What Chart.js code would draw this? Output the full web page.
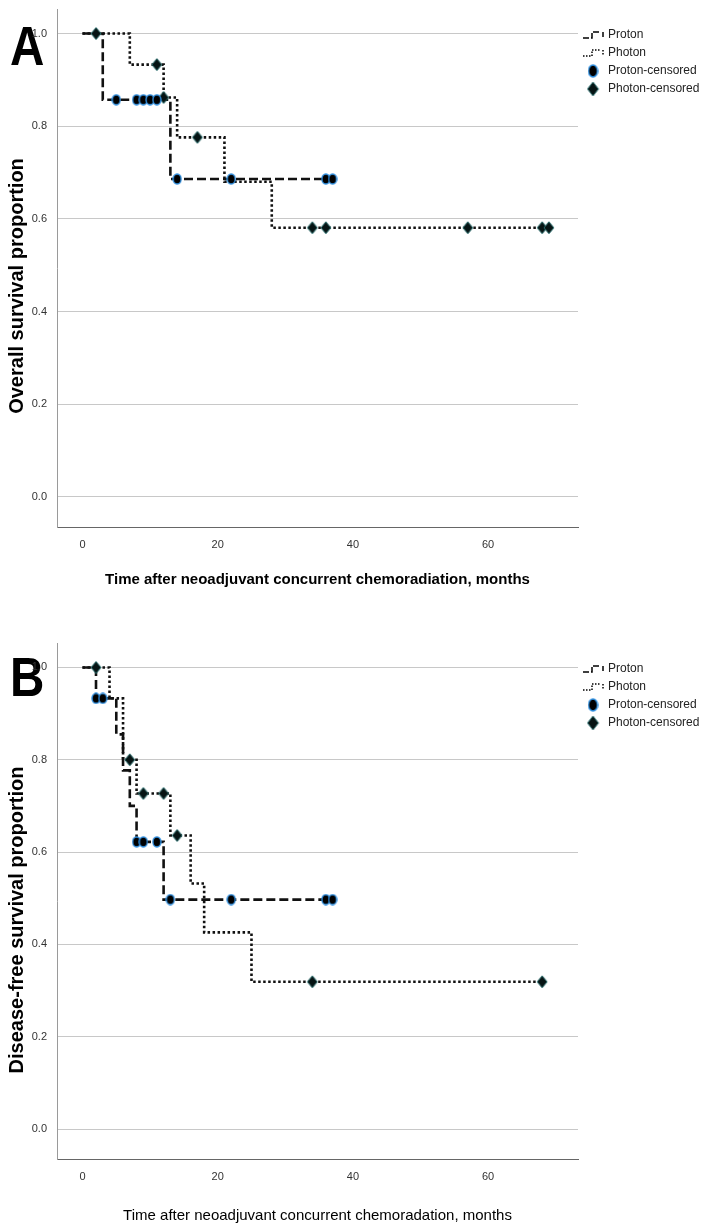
<!DOCTYPE html>
<html>
<head>
<meta charset="utf-8">
<script src="https://cdn.jsdelivr.net/npm/chart.js@4.4.1/dist/chart.umd.min.js"></script>
<style>
  body { margin: 0; background: #fff; width: 707px; height: 1227px; position: relative; overflow: hidden; }
  .panel { position: absolute; left: 0; width: 707px; height: 595px; z-index: 1; }
  .tag { position: absolute; left: 10px; z-index: 0; font: bold 56px 'Liberation Sans', Arial, sans-serif; color: #000; line-height: 1; transform: scaleX(0.85); transform-origin: left top; }
</style>
</head>
<body>
<div class="tag" style="top:18px">A</div>
<div class="tag" style="top:649px">B</div>
<div class="panel" style="top:0"><canvas id="chartA" width="707" height="595"></canvas></div>
<div class="panel" style="top:634px"><canvas id="chartB" width="707" height="593"></canvas></div>
<script>
var xTicks = [0, 20, 40, 60];
var yTicks = [0, 0.2, 0.4, 0.6, 0.8, 1.0];
var seriesNames = ['Proton', 'Photon', 'Proton-censored', 'Photon-censored'];

// A: overall survival (months, proportion after each event)
var osProtonEventT = [3, 13];
var osProtonSurv = [0.857, 0.686];
var osProtonCensT = [5, 8, 9, 10, 11, 14, 22, 36, 37];
var osPhotonEventT = [7, 12, 14, 21, 28];
var osPhotonSurv = [0.933, 0.862, 0.776, 0.680, 0.581];
var osPhotonCensT = [2, 11, 12, 17, 34, 36, 57, 68, 69];

// B: disease-free survival
var dfsProtonEventT = [2, 5, 6, 7, 8, 12];
var dfsProtonSurv = [0.933, 0.855, 0.777, 0.700, 0.622, 0.497];
var dfsProtonCensT = [2, 3, 8, 9, 11, 13, 22, 36, 37];
var dfsPhotonEventT = [4, 6, 8, 13, 16, 18, 25];
var dfsPhotonSurv = [0.933, 0.800, 0.727, 0.636, 0.532, 0.426, 0.319];
var dfsPhotonCensT = [2, 7, 9, 12, 14, 34, 68];

var narrow = "'Liberation Sans Narrow', 'Arial Narrow', 'Liberation Sans', sans-serif";
Chart.defaults.font.family = narrow;

function survAt(evT, surv, t) {
    var s = 1;
    for (var i = 0; i < evT.length; i++) {
        if (evT[i] <= t) s = surv[i];
    }
    return s;
}

// corner points of the Kaplan-Meier step line
function kmPath(evT, surv, censT) {
    var pts = [{ x: 0, y: 1 }];
    var prev = 1;
    for (var i = 0; i < evT.length; i++) {
        pts.push({ x: evT[i], y: prev });
        pts.push({ x: evT[i], y: surv[i] });
        prev = surv[i];
    }
    var end = Math.max(censT[censT.length - 1], evT[evT.length - 1]);
    pts.push({ x: end, y: prev });
    return pts;
}

function censPts(evT, surv, censT) {
    return censT.map(function (t) { return { x: t, y: survAt(evT, surv, t) }; });
}

function dotImg(w, h) {
    var c = document.createElement('canvas');
    c.width = w + 2; c.height = h + 2;
    var g = c.getContext('2d');
    g.beginPath();
    g.ellipse((w + 2) / 2, (h + 2) / 2, w / 2, h / 2, 0, 0, Math.PI * 2);
    g.fillStyle = '#000';
    g.fill();
    g.lineWidth = 1.4;
    g.strokeStyle = '#2f8fe0';
    g.stroke();
    return c;
}

function diamondImg(w, h) {
    var c = document.createElement('canvas');
    c.width = w + 2; c.height = h + 2;
    var g = c.getContext('2d');
    var cx = (w + 2) / 2, cy = (h + 2) / 2;
    g.beginPath();
    g.moveTo(cx, cy - h / 2);
    g.lineTo(cx + w / 2, cy);
    g.lineTo(cx, cy + h / 2);
    g.lineTo(cx - w / 2, cy);
    g.closePath();
    g.fillStyle = '#061414';
    g.fill();
    g.lineWidth = 1;
    g.strokeStyle = '#2b7070';
    g.stroke();
    return c;
}

var protonDash = [9, 4];
var photonDash = [2.5, 2.5];

// legend and rotated y title
var kmLegend = {
    id: 'kmLegend',
    afterDraw: function (chart, args, opts) {
        var ctx = chart.ctx;
        var x0 = chart.chartArea.right + 5;
        var y0 = 35, gap = 18;
        ctx.save();
        ctx.font = '12px ' + narrow;
        ctx.fillStyle = '#222';
        ctx.textBaseline = 'middle';
        seriesNames.forEach(function (name, i) {
            var y = y0 + i * gap;
            if (i < 2) {
                ctx.strokeStyle = '#000';
                ctx.lineWidth = 1.5;
                ctx.setLineDash(i === 0 ? [6, 2] : [1.5, 1.5]);
                ctx.beginPath();
                ctx.moveTo(x0, y + 3);
                ctx.lineTo(x0 + 9, y + 3);
                ctx.lineTo(x0 + 9, y - 3);
                ctx.lineTo(x0 + 17, y - 3);
                ctx.stroke();
                ctx.beginPath();
                ctx.moveTo(x0 + 20, y - 3);
                ctx.lineTo(x0 + 20, y + 2);
                ctx.stroke();
                ctx.setLineDash([]);
            } else {
                var img = i === 2 ? dotImg(9, 12) : diamondImg(11, 14);
                ctx.drawImage(img, x0 + 10 - img.width / 2, y - img.height / 2);
            }
            ctx.fillText(name, x0 + 25, y);
        });
        ctx.translate(17, 286);
        ctx.rotate(-Math.PI / 2);
        ctx.font = 'bold 20px ' + "'Liberation Sans', Arial, sans-serif";
        ctx.fillStyle = '#000';
        ctx.textAlign = 'center';
        ctx.textBaseline = 'middle';
        ctx.fillText(opts.yTitle, 0, 0);
        ctx.restore();
    }
};

function makeChart(id, yTitle, xTitle, xTitleFont, titlePad, pEvT, pSurv, pCensT, hEvT, hSurv, hCensT) {
    return new Chart(document.getElementById(id), {
        type: 'line',
        data: {
            datasets: [{
                label: seriesNames[2],
                data: censPts(pEvT, pSurv, pCensT),
                showLine: false,
                pointStyle: dotImg(8, 10),
                pointRadius: 5,
                order: 0
            }, {
                label: seriesNames[3],
                data: censPts(hEvT, hSurv, hCensT),
                showLine: false,
                pointStyle: diamondImg(10, 12),
                pointRadius: 6,
                order: 1
            }, {
                label: seriesNames[0],
                data: kmPath(pEvT, pSurv, pCensT),
                borderColor: '#111',
                borderWidth: 2.6,
                borderDash: protonDash,
                pointRadius: 0,
                tension: 0,
                order: 2
            }, {
                label: seriesNames[1],
                data: kmPath(hEvT, hSurv, hCensT),
                borderColor: '#111',
                borderWidth: 2.6,
                borderDash: photonDash,
                pointRadius: 0,
                tension: 0,
                order: 3
            }]
        },
        options: {
            responsive: false,
            animation: false,
            devicePixelRatio: 1,
            layout: { padding: { left: 0, top: 9, right: 129, bottom: 0 } },
            scales: {
                x: {
                    type: 'linear',
                    min: -3.77,
                    max: 73.3,
                    afterBuildTicks: function (s) { s.ticks = xTicks.map(function (v) { return { value: v }; }); },
                    afterFit: function (s) { s.height = 68; s.paddingLeft = 0; s.paddingRight = 0; },
                    ticks: { color: '#333', font: { size: 11 }, padding: 3, maxRotation: 0 },
                    grid: { display: false },
                    border: { color: '#666', width: 1 },
                    title: { display: true, text: xTitle, color: '#000', font: xTitleFont, padding: { top: 0, bottom: titlePad } }
                },
                y: {
                    min: -0.065,
                    max: 1.053,
                    afterBuildTicks: function (s) { s.ticks = yTicks.map(function (v) { return { value: v }; }); },
                    afterFit: function (s) { s.width = 57; s.paddingTop = 0; s.paddingBottom = 0; },
                    ticks: { color: '#333', font: { size: 11 }, padding: 10, callback: function (v) { return v.toFixed(1); } },
                    grid: { color: '#c8c8c8', lineWidth: 1, drawTicks: false },
                    border: { color: '#9a9a9a', width: 1 }
                }
            },
            plugins: {
                legend: { display: false },
                tooltip: { enabled: false },
                kmLegend: { yTitle: yTitle }
            }
        },
        plugins: [kmLegend]
    });
}

makeChart('chartA', 'Overall survival proportion',
    'Time after neoadjuvant concurrent chemoradiation, months',
    { size: 15, weight: 'bold' }, 6,
    osProtonEventT, osProtonSurv, osProtonCensT, osPhotonEventT, osPhotonSurv, osPhotonCensT);

makeChart('chartB', 'Disease-free survival proportion',
    'Time after neoadjuvant concurrent chemoradation, months',
    { size: 15, weight: 'normal' }, 2,
    dfsProtonEventT, dfsProtonSurv, dfsProtonCensT, dfsPhotonEventT, dfsPhotonSurv, dfsPhotonCensT);
</script>
</body>
</html>
